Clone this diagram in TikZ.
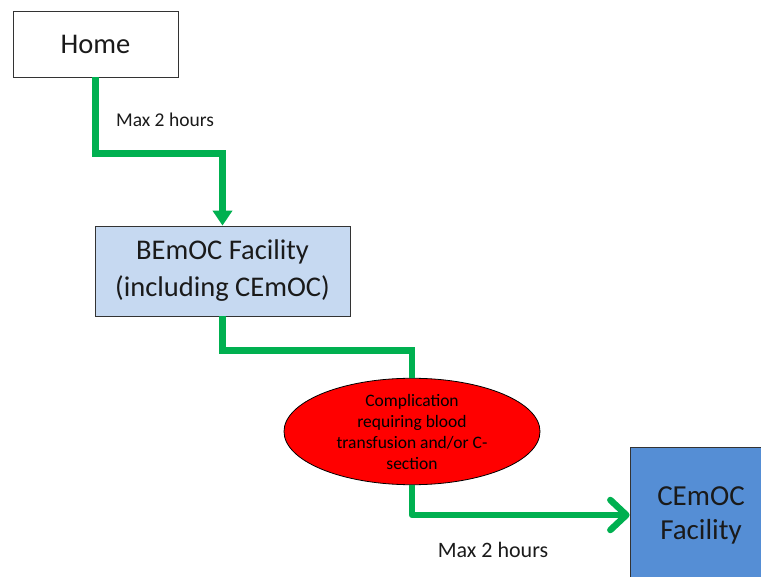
\documentclass[tikz,border=0pt]{standalone}
\usepackage{fontspec}
\setmainfont{Carlito}
\usetikzlibrary{arrows.meta,shapes.geometric}
\definecolor{gline}{HTML}{00B050}
\definecolor{lightblue}{HTML}{C6D9F1}
\definecolor{midblue}{HTML}{558ED5}
\definecolor{txt}{HTML}{1A1A1A}
\tikzset{
  box/.style={draw=black!80, line width=0.8pt, inner sep=0pt, align=center, text=txt},
  conn/.style={draw=gline, line width=6.5pt},
  lbl/.style={text=txt, inner sep=0pt}
}
\begin{document}
\begin{tikzpicture}[x=1pt,y=-1pt]
\useasboundingbox (0,0) rectangle (761,577);
\clip (0,0) rectangle (761,577);
\node[box, fill=white, minimum width=165pt, minimum height=66pt, font=\fontsize{28.5}{32}\selectfont] (home) at (95.5,44) {Home};
\node[box, fill=lightblue, minimum width=255pt, minimum height=90pt, font=\fontsize{28.5}{37}\selectfont] (bemoc) at (222.5,271) {BEmOC Facility\\(including CEmOC)};
\node[draw=black, line width=0.8pt, fill=red, ellipse, minimum width=256pt, minimum height=97pt, inner sep=0pt, align=center, font=\fontsize{17.5}{21}\selectfont] (ell) at (412,431.5) {Complication\\requiring blood\\transfusion and/or C-\\section};
\node[box, fill=midblue, minimum width=142pt, minimum height=136pt, font=\fontsize{29}{34}\selectfont] (cemoc) at (701,515) {CEmOC\\Facility};
\draw[conn, -{Triangle[length=15pt,width=19pt]}] (home.south) -- ++(0,76) -| (bemoc.north);
\draw[conn] (bemoc.south) -- ++(0,34) -| (ell.north);
\draw[conn, line join=round, -{Straight Barb[round,length=16pt,width=30pt]}] (ell.south) |- (cemoc.west);
\node[lbl, font=\fontsize{19.5}{22}\selectfont] (l1) at (165,120) {Max 2 hours};
\node[lbl, font=\fontsize{22}{25}\selectfont] (l2) at (493,550) {Max 2 hours};
\end{tikzpicture}
\end{document}
